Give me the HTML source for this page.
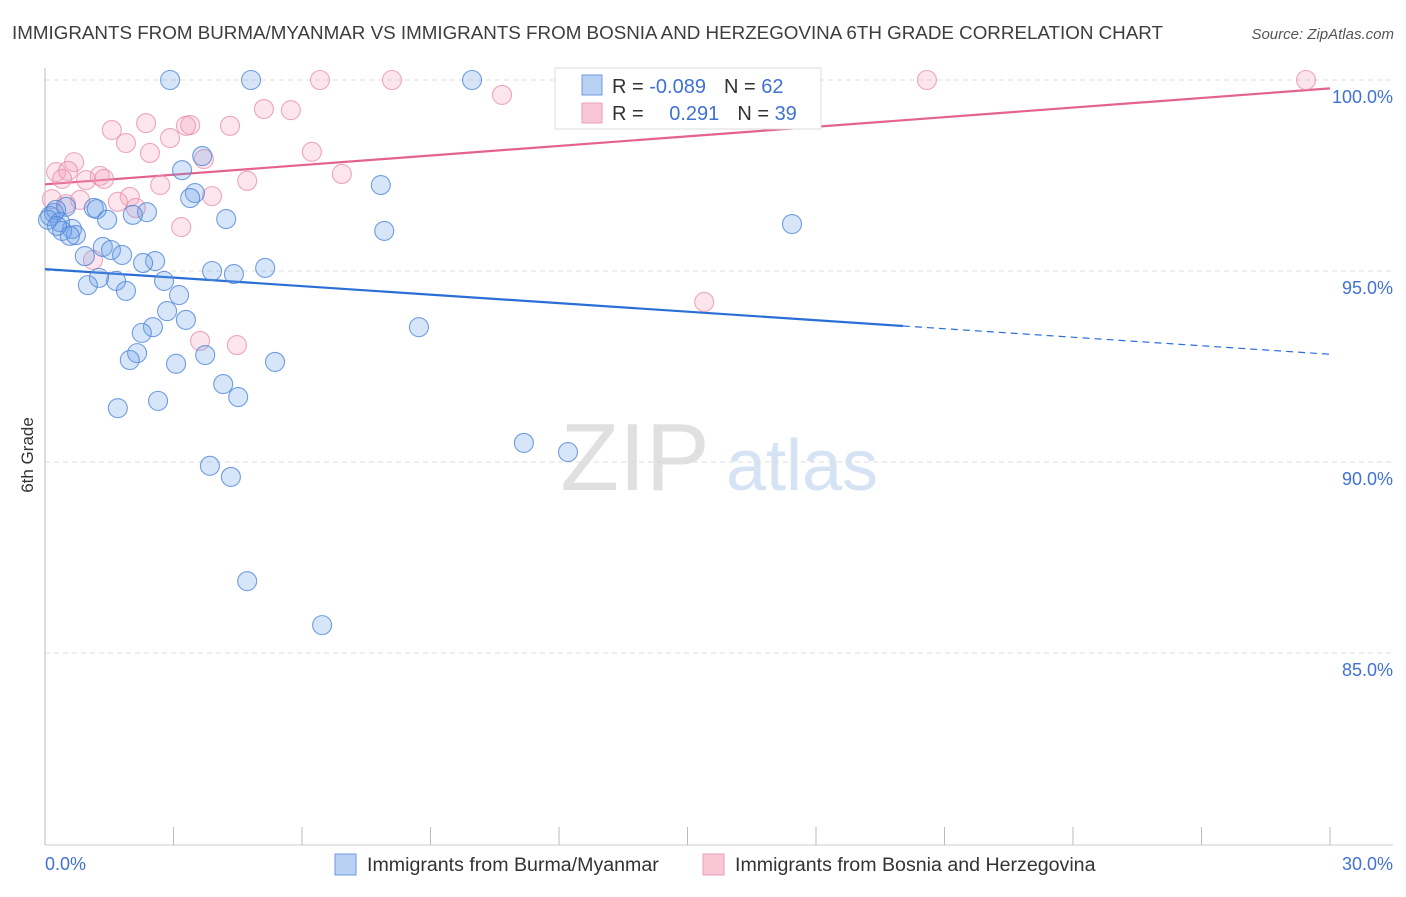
<!DOCTYPE html>
<html><head><meta charset="utf-8"><style>
body{margin:0;background:#fff;font-family:"Liberation Sans",sans-serif}
svg text{font-family:"Liberation Sans",sans-serif}
</style></head><body>
<svg id="c" width="1406" height="892">
<text x="12" y="39" font-size="18.8" fill="#3d3d3d">IMMIGRANTS FROM BURMA/MYANMAR VS IMMIGRANTS FROM BOSNIA AND HERZEGOVINA 6TH GRADE CORRELATION CHART</text>
<text x="1394" y="39" font-size="15" fill="#555" text-anchor="end" font-style="italic">Source: ZipAtlas.com</text>
<text x="33" y="455" font-size="17" fill="#333" text-anchor="middle" transform="rotate(-90 33 455)">6th Grade</text>
<g><text x="635" y="490" font-size="96" fill="#e0e0e0" text-anchor="middle" font-family="Liberation Serif">ZIP</text><text x="802" y="490" font-size="72" fill="#d5e3f5" text-anchor="middle">atlas</text></g>
<g id="grid"></g><g id="axes"></g><g id="trend"></g><g id="pts"></g>
<g>
<rect x="555" y="68" width="266" height="61" fill="#fff" stroke="#ddd"/>
<rect x="582" y="75" width="20" height="20" fill="#b9d2f3" stroke="#6d9be0"/>
<rect x="582" y="103" width="20" height="20" fill="#f9c6d6" stroke="#eba0b8"/>
<text x="612" y="93" font-size="20" fill="#333">R = <tspan fill="#3f72d4">-0.089</tspan><tspan dx="18">N = </tspan><tspan fill="#3f72d4">62</tspan></text>
<text x="612" y="120" font-size="20" fill="#333">R = <tspan fill="#3f72d4" dx="20">0.291</tspan><tspan dx="18">N = </tspan><tspan fill="#3f72d4">39</tspan></text>
</g>
<g>
<rect x="335" y="854" width="21" height="21" fill="#b9d2f3" stroke="#6d9be0"/>
<text x="367" y="871" font-size="19.6" fill="#333">Immigrants from Burma/Myanmar</text>
<rect x="703" y="854" width="21" height="21" fill="#f9c6d6" stroke="#eba0b8"/>
<text x="735" y="871" font-size="19.6" fill="#333">Immigrants from Bosnia and Herzegovina</text>
</g>
</svg>
<script>
const blueX=[2.92,4.81,9.97,3.67,3.20,7.84,3.50,3.39,4.23,1.14,1.21,0.49,0.21,0.12,0.26,0.35,0.63,0.72,0.40,0.58,2.38,2.05,1.45,7.92,17.44,1.35,1.54,1.80,0.93,2.57,2.29,3.90,4.41,5.14,1.26,1.66,1.00,1.89,2.78,3.13,2.85,3.29,2.52,2.26,8.73,2.15,1.98,3.74,5.37,3.06,4.16,4.51,2.64,1.70,11.18,12.21,3.85,4.34,4.72,6.47,0.07,0.28];
const blueY=[100,100,100,98.01,97.64,97.25,97.04,96.91,96.36,96.65,96.62,96.68,96.52,96.44,96.60,96.28,96.10,95.94,96.05,95.92,96.54,96.47,96.34,96.05,96.23,95.63,95.55,95.42,95.39,95.26,95.21,95.00,94.92,95.08,94.82,94.74,94.63,94.48,94.74,94.37,93.95,93.72,93.53,93.38,93.53,92.85,92.67,92.80,92.62,92.57,92.04,91.70,91.60,91.41,90.50,90.26,89.90,89.61,86.88,85.73,96.34,96.18];
const pinkX=[6.42,8.10,20.59,29.44,10.67,5.11,5.74,2.36,3.39,3.29,4.32,1.56,1.89,2.92,2.45,6.23,3.71,0.68,0.26,0.54,0.40,1.28,1.38,0.96,6.93,4.72,2.69,3.90,1.98,1.70,2.12,0.82,0.49,0.16,3.18,15.39,3.62,4.48,1.12];
const pinkY=[100,100,100,100,99.61,99.24,99.21,98.87,98.82,98.80,98.80,98.69,98.35,98.48,98.09,98.12,97.93,97.85,97.59,97.62,97.41,97.49,97.41,97.38,97.54,97.36,97.25,96.96,96.94,96.81,96.65,96.86,96.75,96.88,96.15,94.19,93.17,93.06,95.29];
const blueTrend=[95.05,92.82];
const pinkTrend=[97.27,99.78];
const yTicks=[100,95,90,85];
const yTickLabels=["100.0%","95.0%","90.0%","85.0%"];
const xTicks=[0,3,6,9,12,15,18,21,24,27,30];

const NS="http://www.w3.org/2000/svg";
const X=v=>45+v*(1285/30);
const Y=v=>80+(100-v)*38.2;
function mk(tag,attrs,parent){const e=document.createElementNS(NS,tag);for(const k in attrs)e.setAttribute(k,attrs[k]);document.getElementById(parent).appendChild(e);return e;}
yTicks.forEach((t,i)=>{
  const l=mk('line',{x1:45,x2:1393,y1:Y(t),y2:Y(t),stroke:'#dcdcdc','stroke-dasharray':'5,4'},'grid');
  
  
  const tx=mk('text',{x:1393,y:Y(t)+23,'font-size':18,fill:'#3f72d4','text-anchor':'end'},'grid');
  tx.textContent=yTickLabels[i];
  
  
});
const ya=mk('line',{x1:45,x2:45,y1:68,y2:845,stroke:'#bbb'},'axes');


const xa=mk('line',{x1:45,x2:1393,y1:845,y2:845,stroke:'#ccc'},'axes');


xTicks.forEach(t=>{
  const l=mk('line',{x1:X(t),x2:X(t),y1:827,y2:845,stroke:'#bbb'},'axes');
  
  
});
[[0,"0.0%",'start',45],[30,"30.0%",'end',1393]].forEach(a=>{
  const t=mk('text',{x:a[3],y:870,'font-size':18,fill:'#3f72d4','text-anchor':a[2]},'axes');
  t.textContent=a[1];
  
  
});
function pts(xs,ys,fill,stroke,name){
  xs.forEach((x,i)=>{
    const c=mk('circle',{cx:X(x),cy:Y(ys[i]),r:9.5,fill:fill,stroke:stroke,'stroke-width':1.1},'pts');
    
    
  });
}
pts(pinkX,pinkY,'rgba(243,160,188,0.28)','rgba(230,140,172,0.75)','point-bosnia');
pts(blueX,blueY,'rgba(110,160,235,0.28)','rgba(80,135,215,0.8)','point-burma');
const bAt=x=>blueTrend[0]+(blueTrend[1]-blueTrend[0])*x/30;
const pAt=x=>pinkTrend[0]+(pinkTrend[1]-pinkTrend[0])*x/30;
const b1=mk('line',{x1:X(0),y1:Y(bAt(0)),x2:X(20.03),y2:Y(bAt(20.03)),stroke:'#2a6fd6','stroke-width':2.2},'trend');


const b2=mk('line',{x1:X(20.03),y1:Y(bAt(20.03)),x2:X(30),y2:Y(bAt(30)),stroke:'#2a6fd6','stroke-width':1.2,'stroke-dasharray':'7,5'},'trend');


const p1=mk('line',{x1:X(0),y1:Y(pAt(0)),x2:X(30),y2:Y(pAt(30)),stroke:'#e4638e','stroke-width':2.2},'trend');


</script>
</body></html>
